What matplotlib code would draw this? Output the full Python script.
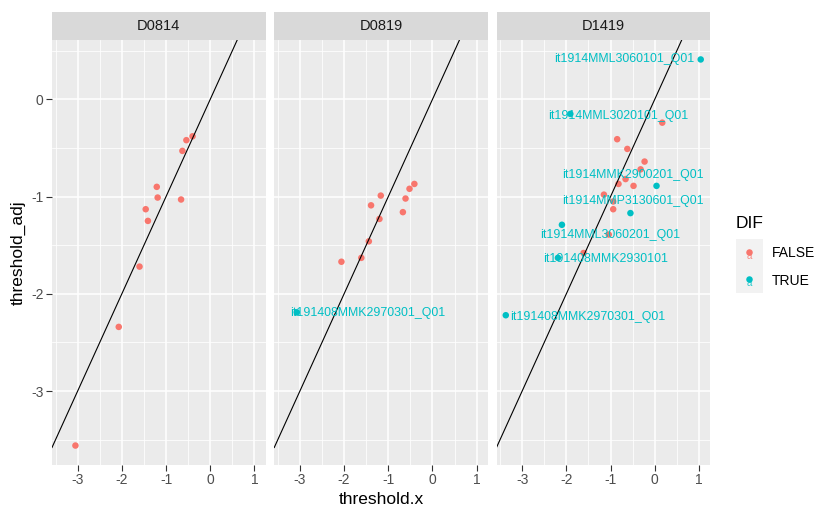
import matplotlib
matplotlib.use('Agg')
import matplotlib.pyplot as plt
import numpy as np

plt.rcParams['font.family'] = ['Liberation Sans', 'DejaVu Sans']
plt.rcParams['axes.unicode_minus'] = False

# data ------------------------------------------------------------------
panels = ['D0814', 'D0819', 'D1419']
dif_levels = ['FALSE', 'TRUE']
dif_colors = ['#F8766D', '#00BFC4']

d0814_x = [-0.40, -0.54, -0.63, -1.21, -1.19, -0.66, -1.46, -1.41, -1.60, -2.07, -3.05]
d0814_y = [-0.38, -0.42, -0.53, -0.90, -1.01, -1.03, -1.13, -1.25, -1.72, -2.34, -3.56]
d0814_dif = [False] * 11

d0819_x = [-0.41, -0.52, -0.61, -0.67, -1.17, -1.39, -1.20, -1.44, -1.61, -2.06, -3.07]
d0819_y = [-0.87, -0.92, -1.02, -1.16, -0.99, -1.09, -1.23, -1.46, -1.63, -1.67, -2.19]
d0819_dif = [False] * 10 + [True]

d1419_x = [0.17, -0.85, -0.62, -0.23, -0.32, -0.66, -0.82, -0.48, -1.15, -0.94, -0.94, -1.04, -1.61,
           1.04, -1.91, 0.04, -0.55, -2.10, -2.19, -3.37]
d1419_y = [-0.24, -0.41, -0.51, -0.64, -0.72, -0.82, -0.87, -0.89, -0.98, -1.05, -1.13, -1.39, -1.58,
           0.41, -0.15, -0.89, -1.17, -1.29, -1.63, -2.22]
d1419_dif = [False] * 13 + [True] * 7

# label text placed where the repel put it
lab_panel = ['D0819', 'D1419', 'D1419', 'D1419', 'D1419', 'D1419', 'D1419', 'D1419']
lab_text = ['it191408MMK2970301_Q01', 'it1914MML3060101_Q01', 'it1914MML3020101_Q01',
            'it1914MMK2900201_Q01', 'it1914MMP3130601_Q01', 'it1914MML3060201_Q01',
            'it191408MMK2930101', 'it191408MMK2970301_Q01']
lab_x = [-1.46, -0.70, -0.83, -0.49, -0.50, -1.00, -1.11, -1.52]
lab_y = [-2.20, 0.41, -0.17, -0.78, -1.05, -1.40, -1.64, -2.24]

ab_intercept, ab_slope = 0.0, 1.0

data = {'D0814': (d0814_x, d0814_y, d0814_dif),
        'D0819': (d0819_x, d0819_y, d0819_dif),
        'D1419': (d1419_x, d1419_y, d1419_dif)}

# figure ----------------------------------------------------------------
W, H = 817, 508
fig = plt.figure(figsize=(W / 100, H / 100), dpi=100)

def fx(px):
    return px / W

def fy(py):
    return 1 - py / H

xlim = (-3.58, 1.25)
ylim = (-3.76, 0.61)
xmaj = [-3, -2, -1, 0, 1]
xmin_ = [-3.5, -2.5, -1.5, -0.5, 0.5]
ymaj = [-3, -2, -1, 0]
ymin_ = [-3.5, -2.5, -1.5, -0.5, 0.5]

lefts = [52, 274.25, 496.5]
pw = 213.5
ptop, pbot = 40, 465
stop = 12

for i, name in enumerate(panels):
    ax = fig.add_axes([fx(lefts[i]), fy(pbot), fx(pw), (pbot - ptop) / H])
    ax.set_facecolor('#EBEBEB')
    for s in ax.spines.values():
        s.set_visible(False)
    for v in xmin_:
        ax.axvline(v, color='white', lw=0.55, zorder=0)
    for v in ymin_:
        ax.axhline(v, color='white', lw=0.55, zorder=0)
    for v in xmaj:
        ax.axvline(v, color='white', lw=1.1, zorder=0)
    for v in ymaj:
        ax.axhline(v, color='white', lw=1.1, zorder=0)

    x, y, dif = data[name]
    x = np.array(x); y = np.array(y); dif = np.array(dif)
    for lev, col in zip([False, True], dif_colors):
        m = dif == lev
        ax.scatter(x[m], y[m], s=22, color=col, edgecolors='none', zorder=2)

    xx = np.array(xlim)
    ax.plot(xx, ab_intercept + ab_slope * xx, color='black', lw=0.8, zorder=3)

    for p, t, lx, ly in zip(lab_panel, lab_text, lab_x, lab_y):
        if p == name:
            ax.text(lx, ly, t, color=dif_colors[1], fontsize=8.9, ha='center', va='center', zorder=4)

    ax.set_xlim(xlim)
    ax.set_ylim(ylim)
    ax.set_xticks(xmaj)
    ax.set_xticklabels([str(v) for v in xmaj])
    ax.set_yticks(ymaj)
    ax.set_yticklabels([str(v) for v in ymaj])
    ax.tick_params(axis='both', colors='#333333', labelcolor='#4D4D4D', labelsize=10,
                   length=4, width=0.8, pad=2)
    if i > 0:
        ax.tick_params(axis='y', left=False, labelleft=False)
    if i == 1:
        ax.set_xlabel('threshold.x', fontsize=12.5, labelpad=3)
    if i == 0:
        ax.set_ylabel('threshold_adj', fontsize=12.5, labelpad=4)

    # strip
    sax = fig.add_axes([fx(lefts[i]), fy(ptop), fx(pw), (ptop - stop) / H])
    sax.set_facecolor('#D9D9D9')
    sax.set_xticks([]); sax.set_yticks([])
    for s in sax.spines.values():
        s.set_visible(False)
    sax.text(0.5, 0.5, name, ha='center', va='center', fontsize=10.5, color='#1A1A1A',
             transform=sax.transAxes)

# legend ------------------------------------------------------------------
lax = fig.add_axes([fx(736), fy(293), fx(27), 54 / H])
lax.set_facecolor('#F2F2F2')
lax.set_xticks([]); lax.set_yticks([])
for s in lax.spines.values():
    s.set_visible(False)
lax.set_xlim(0, 1)
lax.set_ylim(0, len(dif_levels))
for k, (lev, col) in enumerate(zip(dif_levels, dif_colors)):
    yy = len(dif_levels) - 0.5 - k
    lax.text(0.5, yy - 0.12, 'a', color=col, fontsize=7, ha='center', va='center', alpha=0.8)
    lax.scatter([0.5], [yy], s=22, color=col, edgecolors='none', zorder=3)
    fig.text(fx(772), fy(253.3 + 27.3 * k), lev, fontsize=10, va='center', ha='left')
fig.text(fx(736), fy(223), 'DIF', fontsize=12.5, va='center', ha='left')

fig.savefig('out.png', dpi=100)
